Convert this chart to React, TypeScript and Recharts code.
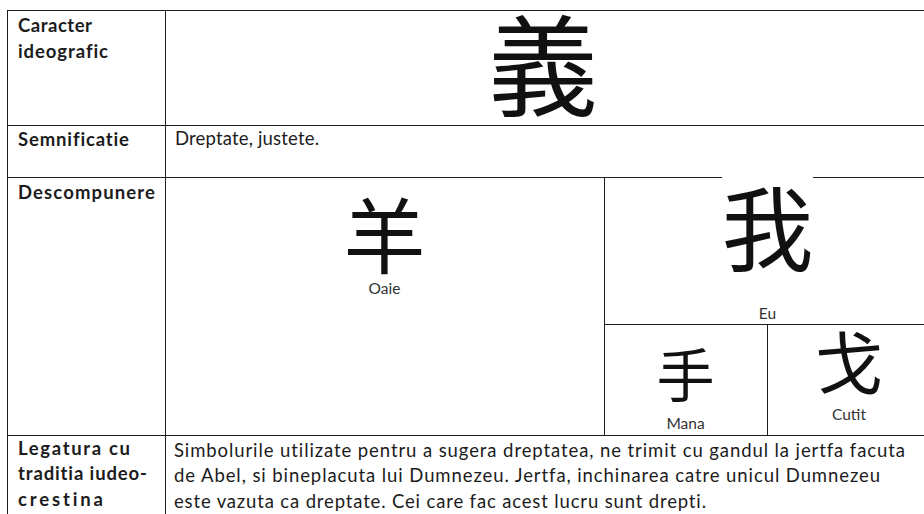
import React from 'react';
import { Treemap } from 'recharts';

// ---- data ----
const rowLabels: string[][] = [
  ['Caracter', 'ideografic'],
  ['Semnificatie'],
  ['Descompunere'],
  ['Legatura cu', 'traditia iudeo-', 'crestina'],
];
const mainChar = '義';
const meaningText = 'Dreptate, justete.';
const linkLines: string[] = [
  'Simbolurile utilizate pentru a sugera dreptatea, ne trimit cu gandul la jertfa facuta',
  'de Abel, si bineplacuta lui Dumnezeu. Jertfa, inchinarea catre unicul Dumnezeu',
  'este vazuta ca dreptate. Cei care fac acest lucru sunt drepti.',
];
const partNames: string[] = ['Oaie', 'Eu', 'Mana', 'Cutit'];
const partChars: string[] = ['羊', '我', '手', '戈'];
const partAreas: number[] = [113.3, 48.1, 18.1, 18.2];

// nested tree for the treemap: Oaie | (Eu / (Mana | Cutit))
const leaf = (i: number) => ({ name: partNames[i], value: partAreas[i] });
const treeData = [
  leaf(0),
  { name: 'g1', children: [leaf(1), { name: 'g2', children: [leaf(2), leaf(3)] }] },
];

// ---- styles ----
const LINE = '#1e1e1e';
const TEXT = '#1c1c1c';
const LABEL = '#333';
const LATIN = 'Lato, "Open Sans", sans-serif';
const CJK = '"Noto Sans CJK SC", "Noto Sans CJK JP", sans-serif';
const NOLIG: React.CSSProperties = { fontVariantLigatures: 'none', fontFeatureSettings: '"liga" 0, "clig" 0' };
const GLYPH_SHIFT = 0.075; // em correction so the glyph's ink is centred

// per-cell glyph/label placement (style only)
const cellStyle: Record<string, { size: number; cy: number; ly: number; gap?: boolean }> = {
  Oaie: { size: 82, cy: 61, ly: 117 },
  Eu: { size: 92, cy: 53, ly: 142, gap: true },
  Mana: { size: 58, cy: 52, ly: 105 },
  Cutit: { size: 68, cy: 41, ly: 96 },
};

const labelBaselines = [[32, 57.5], [146], [198.5], [454.5, 480, 505.5]];
const labelWidths = [[74, 90], [111], [137], [112, 129, 85]];
const linkBaselines = [457, 482, 507.5];
const linkWidths = [731, 706, 532];

const CellContent = (props: any) => {
  const { x, y, width, height, name } = props;
  const idx = partNames.indexOf(name);
  if (idx < 0 || width == null) return <g />;
  const st = cellStyle[name];
  const cx = x + width / 2;
  return (
    <g>
      {st.gap && <rect x={x + 118} y={y} width={91} height={3} fill="#fff" />}
      {x > 0 && (
        <line x1={x + 0.5} y1={y} x2={x + 0.5} y2={y + height} stroke={LINE} strokeWidth={1} />
      )}
      {y > 0 && (
        <line x1={x} y1={y + 0.5} x2={x + width} y2={y + 0.5} stroke={LINE} strokeWidth={1} />
      )}
      <text
        x={cx}
        y={y + st.cy - GLYPH_SHIFT * st.size}
        fontSize={st.size}
        fontFamily={CJK}
        textAnchor="middle"
        dominantBaseline="central"
        fill="#111"
      >
        {partChars[idx]}
      </text>
      <text x={cx} y={y + st.ly} fontSize={15.5} fontFamily={LATIN} textAnchor="middle" fill={LABEL}>
        {name}
      </text>
    </g>
  );
};

export default function App() {
  return (
    <div
      style={{
        position: 'absolute',
        left: 0,
        top: 0,
        width: 924,
        height: 514,
        overflow: 'hidden',
        background: '#fff',
      }}
    >
      <svg width={924} height={514} style={{ position: 'absolute', left: 0, top: 0 }}>
        {/* horizontal rules */}
        {[10, 125, 177, 435].map((yy) => (
          <line key={yy} x1={7} y1={yy + 0.5} x2={940} y2={yy + 0.5} stroke={LINE} strokeWidth={1} />
        ))}
        {/* vertical rules */}
        {[7, 165].map((xx) => (
          <line key={xx} x1={xx + 0.5} y1={10} x2={xx + 0.5} y2={520} stroke={LINE} strokeWidth={1} />
        ))}
        {/* row labels */}
        {rowLabels.map((lines, r) =>
          lines.map((t, k) => (
            <text
              key={`${r}-${k}`}
              x={18}
              y={labelBaselines[r][k]}
              fontSize={18.5}
              fontWeight={700}
              fontFamily={LATIN}
              fill={TEXT}
              style={NOLIG}
              textLength={labelWidths[r][k]}
              lengthAdjust="spacing"
            >
              {t}
            </text>
          ))
        )}
        {/* main character */}
        <text
          x={543}
          y={68 - GLYPH_SHIFT * 110}
          fontSize={110}
          fontFamily={CJK}
          textAnchor="middle"
          dominantBaseline="central"
          fill="#111"
        >
          {mainChar}
        </text>
        {/* meaning */}
        <text
          x={175}
          y={144.5}
          fontSize={18.5}
          fontFamily={LATIN}
          fill={TEXT}
          style={NOLIG}
          textLength={144}
          lengthAdjust="spacing"
        >
          {meaningText}
        </text>
        {/* link text */}
        {linkLines.map((t, i) => (
          <text
            key={i}
            x={174}
            y={linkBaselines[i]}
            fontSize={18.5}
            fontFamily={LATIN}
            fill={TEXT}
            style={NOLIG}
            textLength={linkWidths[i]}
            lengthAdjust="spacing"
          >
            {t}
          </text>
        ))}
      </svg>
      <div style={{ position: 'absolute', left: 165, top: 177 }}>
        <Treemap
          width={766}
          height={258}
          data={treeData}
          dataKey="value"
          nameKey="name"
          isAnimationActive={false}
          content={<CellContent />}
        />
      </div>
    </div>
  );
}
